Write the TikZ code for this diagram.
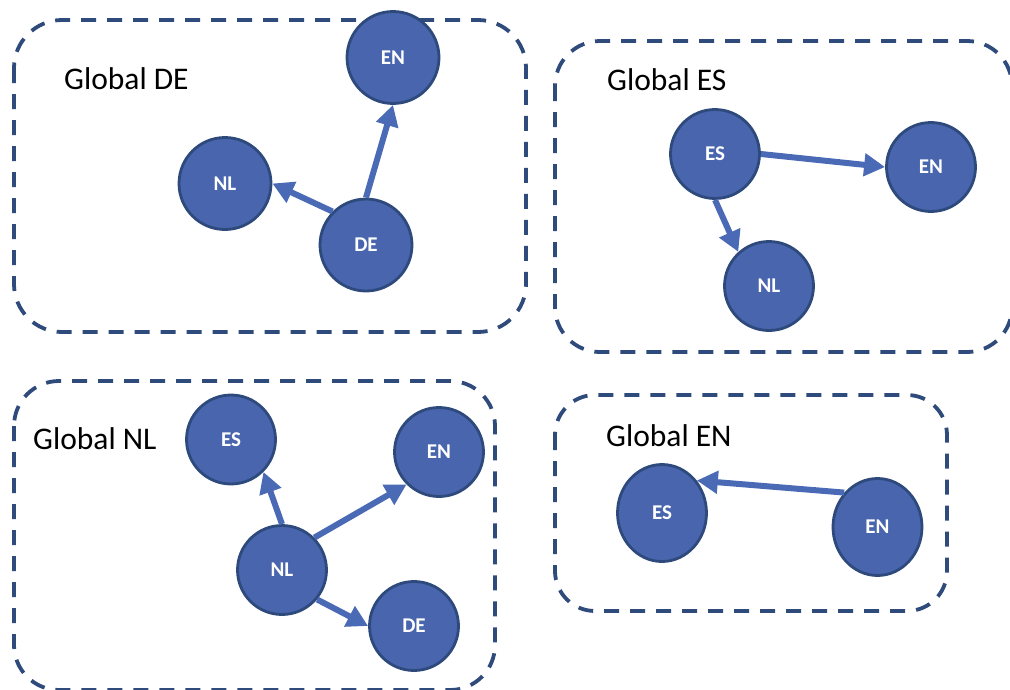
\documentclass[tikz,border=0pt]{standalone}
\usepackage{fontspec}
\setmainfont{Carlito}
\usetikzlibrary{arrows.meta,shapes.geometric}
\definecolor{boxline}{HTML}{2F4B7C}
\definecolor{langfill}{HTML}{4865AD}
\definecolor{langedge}{HTML}{2E4A7D}
\definecolor{linkcol}{HTML}{4A6AB5}
\begin{document}
\begin{tikzpicture}[x=1pt,y=-1pt,
  groupbox/.style={draw=boxline, line width=3.8pt, dash pattern=on 15pt off 11pt},
  lang/.style={circle, fill=langfill, draw=langedge, line width=2.8pt, minimum size=89pt,
    inner sep=0pt, text=white, font=\bfseries\fontsize{21}{24}\selectfont},
  langbig/.style={lang, minimum size=92pt},
  langoval/.style={lang, ellipse, minimum width=89pt, minimum height=97pt},
  title/.style={anchor=base west, inner sep=0pt, font=\fontsize{31.5}{36}\selectfont},
  link/.style={draw=linkcol, line width=6pt, -{Triangle[length=21pt,width=22pt]}}
]
\useasboundingbox (0,0) rectangle (1010,689);

% group frames
\draw[groupbox, rounded corners=48pt] (14,20) rectangle (526,332);
\draw[groupbox, rounded corners=45pt] (555,41) rectangle (1012,352);
\draw[groupbox, rounded corners=45pt] (14,381) rectangle (495,690);
\draw[groupbox, rounded corners=40pt] (555,395) rectangle (947,611);

% group titles
\node[title] (tDE) at (64,89) {Global DE};
\node[title] (tES) at (607,90.5) {Global ES};
\node[title] (tNL) at (33,449) {Global NL};
\node[title] (tEN) at (606,446) {Global EN};

% Global DE
\node[langbig] (deEN) at (393,57.5) {EN};
\node[langbig] (deNL) at (225,183.5) {NL};
\node[langbig] (deDE) at (366,245) {DE};

% Global ES
\node[lang] (esES) at (715,154) {ES};
\node[lang] (esEN) at (931,167) {EN};
\node[lang] (esNL) at (769,286) {NL};

% Global NL
\node[lang] (nlES) at (231,439.5) {ES};
\node[lang] (nlEN) at (439,452) {EN};
\node[lang] (nlNL) at (282,570) {NL};
\node[lang] (nlDE) at (414,626) {DE};

% Global EN
\node[langoval] (enES) at (662,513) {ES};
\node[langoval] (enEN) at (877.5,527) {EN};

% links
\draw[link] (deDE.north) -- (deEN.south);
\draw[link] (deDE.135) -- (deNL.east);
\draw[link] (esES.east) -- (esEN.west);
\draw[link] (esES.south) -- (esNL.132);
\draw[link] (nlNL.north) -- (nlES.-45);
\draw[link] (nlNL.45) -- (nlEN.225);
\draw[link] (nlNL.-40) -- (nlDE.west);
\draw[link] (enEN.134) -- (enES.43);
\end{tikzpicture}
\end{document}
